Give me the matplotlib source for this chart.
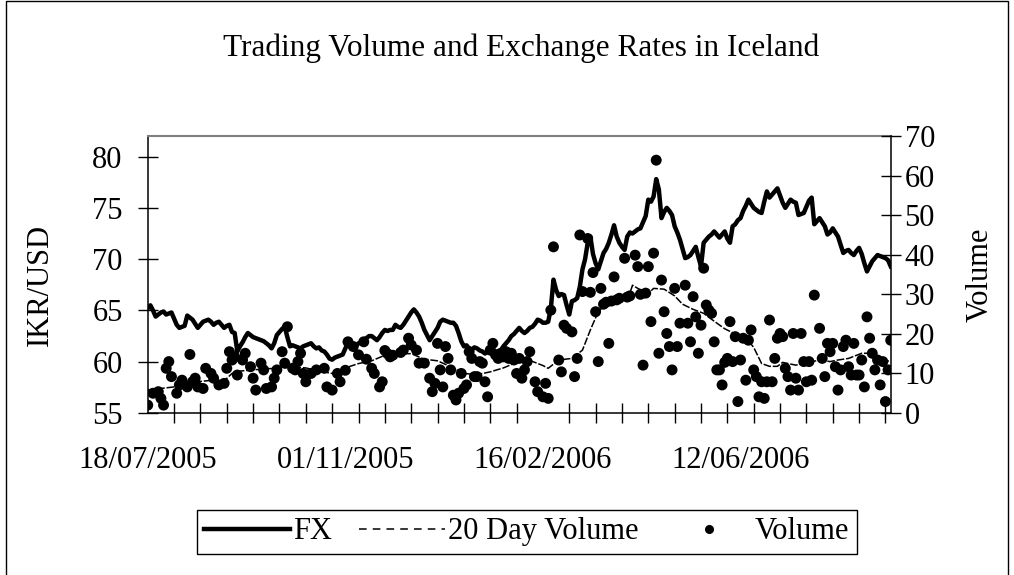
import numpy as np
import matplotlib
matplotlib.use("Agg")
import matplotlib.pyplot as plt
from matplotlib.patches import Rectangle
from matplotlib.lines import Line2D

plt.rcParams['font.family'] = ['Liberation Serif', 'DejaVu Serif']

# Trading days from 18/07/2005 (index 0)
fx = [
    65.2, 65.5, 65.0, 64.4, 64.6, 64.8, 64.9, 64.6, 64.7, 64.8,
    64.2, 63.6, 63.3, 63.4, 63.5, 64.5, 64.3, 64.1, 63.7, 63.3,
    63.6, 63.9, 64.0, 64.1, 63.9, 63.6, 63.8, 63.9, 63.6, 63.3,
    63.5, 63.6, 62.9, 62.8, 61.0, 61.5, 61.9, 62.4, 62.8, 62.6,
    62.4, 62.3, 62.2, 62.1, 62.0, 61.8, 61.6, 61.3, 61.8, 62.6,
    62.9, 63.2, 63.4, 62.4, 61.5, 61.6, 61.5, 61.4, 61.3, 61.5,
    61.6, 61.7, 61.8, 61.5, 61.3, 61.4, 61.1, 61.0, 60.7, 60.3,
    60.2, 60.4, 60.5, 60.6, 60.7, 61.3, 61.8, 61.6, 61.5, 61.5,
    61.8, 61.9, 62.0, 62.3, 62.5, 62.5, 62.3, 62.1, 62.4, 62.8,
    63.1, 63.0, 63.1, 63.1, 63.6, 63.4, 63.3, 63.6, 64.0, 64.4,
    64.8, 65.1, 64.8, 64.4, 63.8, 63.1, 62.6, 62.1, 62.5, 62.9,
    63.3, 63.9, 64.1, 64.0, 63.9, 63.8, 63.8, 63.5, 62.8, 62.0,
    61.5, 61.6, 61.3, 61.2, 61.4, 61.3, 61.1, 61.0, 60.8, 61.0,
    61.3, 61.2, 61.0, 60.8, 61.1, 61.5, 61.8, 62.1, 62.5, 62.7,
    63.0, 63.3, 63.0, 62.8, 63.0, 63.3, 63.4, 63.7, 64.1, 64.0,
    63.8, 63.8, 63.9, 65.2, 68.0, 67.0, 66.4, 66.6, 66.5, 65.5,
    64.6, 65.9, 66.0, 66.2, 67.3, 69.0, 70.0, 71.6, 72.2, 70.5,
    69.6, 69.0, 69.8, 70.6, 71.0, 71.6, 72.4, 73.3, 72.2, 71.6,
    71.2, 70.9, 72.2, 72.6, 72.5, 72.7, 72.9, 73.0, 73.6, 74.2,
    75.8, 75.6, 76.1, 77.8, 76.8, 74.0, 74.6, 75.0, 74.7, 74.3,
    73.2, 72.6, 71.9, 71.0, 70.1, 70.2, 70.4, 70.8, 71.2, 70.2,
    69.3, 71.6, 71.9, 72.2, 72.4, 72.7, 72.4, 72.1, 72.4, 72.7,
    72.0, 71.6, 73.2, 73.4, 73.8, 74.0, 74.7, 75.2, 75.8, 75.4,
    75.0, 74.8, 74.6, 74.5, 75.6, 76.6, 76.0, 76.3, 76.6, 76.9,
    76.2, 75.5, 75.0, 75.4, 75.8, 75.6, 75.5, 74.3, 74.4, 74.5,
    75.1, 75.7, 76.0, 73.4, 73.7, 74.0, 73.6, 73.2, 72.4, 72.6,
    73.0, 72.6, 72.2, 71.4, 70.6, 70.8, 70.9, 70.6, 70.4, 70.8,
    71.1, 70.5, 69.6, 68.8, 69.3, 69.8, 70.1, 70.4, 70.3, 70.2,
    70.1, 69.9, 69.3,
]

# 20 day volume, read at these trading days
ma_day = [0, 5, 10, 15, 20, 25, 28, 32, 35, 40, 45, 50, 55, 60, 65, 70, 75,
          80, 85, 90, 95, 100, 105, 110, 115, 120, 125, 130, 135, 140, 145,
          150, 152, 156, 161, 165, 168, 171, 173, 177, 181, 183, 184, 186,
          190, 192, 196, 200, 203, 207, 211, 215, 219, 222, 225, 228, 230,
          233, 236, 239, 241, 246, 251, 255, 259, 262, 266, 271, 273, 276, 282]
ma_val = [5.8, 6.2, 6.6, 7.1, 8.0, 8.3, 7.5, 10.0, 10.6, 10.9, 11.2, 11.3,
          11.6, 11.4, 10.6, 10.0, 11.4, 12.5, 13.2, 14.6, 15.0, 15.0, 13.6,
          13.2, 11.7, 10.0, 9.7, 10.4, 11.4, 12.8, 13.3, 12.0, 11.3, 13.4,
          13.8, 15.9, 21.0, 25.6, 26.9, 28.1, 28.6, 30.3, 32.3, 31.5, 30.2,
          31.5, 31.3, 29.6, 27.5, 26.2, 25.2, 23.2, 21.3, 20.3, 19.3, 18.2,
          16.6, 12.5, 11.8, 11.8, 12.8, 12.1, 12.8, 13.4, 13.0, 13.4, 13.8,
          15.1, 15.1, 13.9, 13.0]

# daily volume dots (trading day, volume)
vol_day = [0, 2, 4, 5, 6, 7, 8, 9, 11, 12, 13, 15, 16, 17, 18, 19, 21, 22, 24,
           25, 27, 29, 30, 31, 32, 33, 34, 36, 37, 39, 40, 41, 43, 44, 45, 47,
           48, 49, 51, 52, 53, 55, 56, 57, 58, 59, 60, 62, 64, 67, 68, 70, 72,
           73, 75, 76, 78, 80, 82, 83, 85, 86, 88, 89, 90, 91, 92, 93, 96, 97,
           99, 100, 102, 103, 105, 107, 108, 109, 110, 111, 112, 113, 114, 115,
           116, 117, 118, 119, 120, 121, 122, 123, 124, 125, 126, 127, 128,
           129, 130, 131, 132, 133, 134, 135, 136, 137, 138, 139, 140, 141,
           142, 143, 144, 145, 147, 148, 150, 151, 152, 153, 154, 156, 157,
           158, 159, 161, 162, 163, 164, 165, 167, 168, 169, 170, 171, 172,
           173, 174, 175, 176, 177, 178, 179, 181, 182, 183, 185, 186, 187,
           188, 189, 190, 191, 192, 193, 194, 195, 196, 197, 198, 199, 200,
           201, 202, 204, 205, 206, 207, 208, 209, 210, 211, 212, 213, 214,
           215, 216, 217, 218, 219, 220, 221, 222, 223, 224, 225, 226, 227,
           228, 229, 230, 231, 232, 233, 234, 235, 236, 237, 238, 239, 240,
           241, 242, 243, 244, 245, 246, 247, 248, 249, 250, 251, 252, 253,
           255, 256, 257, 258, 259, 260, 261, 262, 263, 264, 265, 266, 267,
           268, 269, 270, 271, 272, 273, 274, 275, 276, 277, 278, 279, 280,
           281, 282]
vol_val = [2.0, 5.0, 5.4, 3.7, 2.0, 11.3, 13.0, 9.2, 5.0, 7.1, 8.3, 6.6, 14.8,
           7.9, 8.8, 6.6, 6.2, 11.3, 10.0, 8.8, 7.1, 7.5, 11.3, 15.5, 13.4,
           14.2, 9.6, 13.4, 15.1, 11.7, 8.8, 5.8, 12.6, 10.9, 6.2, 6.6, 8.8,
           10.9, 15.5, 12.6, 21.8, 11.3, 10.9, 13.0, 15.1, 10.0, 7.9, 10.0,
           10.9, 11.3, 6.6, 5.8, 10.0, 7.9, 10.8, 18.0, 16.8, 14.7, 18.0, 13.6,
           11.3, 10.0, 6.6, 7.9, 15.8, 15.0, 14.2, 14.6, 15.3, 15.9, 18.9,
           17.2, 15.9, 12.6, 12.6, 8.8, 5.4, 7.5, 17.6, 10.9, 6.6, 16.8, 13.8,
           10.9, 4.5, 3.3, 5.0, 10.0, 6.2, 7.1, 15.5, 13.8, 9.2, 9.2, 13.0,
           12.6, 7.9, 4.1, 15.9, 17.6, 14.7, 13.8, 15.1, 14.2, 15.5, 13.8,
           15.1, 13.4, 10.0, 13.8, 8.8, 10.9, 13.0, 15.5, 7.9, 5.4, 4.1, 7.5,
           3.7, 26.0, 42.0, 13.4, 10.4, 22.2, 21.4, 20.5, 9.2, 13.8, 45.0,
           30.7, 44.1, 30.5, 35.5, 25.6, 13.0, 31.5, 27.5, 28.0, 17.6, 28.3,
           34.4, 28.6, 29.0, 39.1, 29.3, 29.6, 39.9, 37.0, 30.0, 12.1, 30.3,
           37.0, 23.1, 40.4, 63.9, 15.1, 33.6, 25.6, 20.1, 16.8, 10.9, 31.5,
           16.8, 22.7, 32.3, 22.7, 18.0, 29.4, 24.3, 15.1, 22.2, 36.6, 27.3,
           26.0, 25.2, 18.0, 10.9, 10.9, 7.1, 12.8, 13.8, 23.1, 13.0, 19.3,
           2.9, 13.4, 18.9, 8.3, 18.4, 21.0, 10.9, 9.2, 4.1, 7.9, 3.7, 7.9,
           23.5, 7.9, 13.8, 18.9, 20.1, 19.3, 11.3, 9.2, 5.8, 20.1, 8.8, 5.8,
           20.1, 13.0, 7.9, 13.0, 8.3, 29.8, 21.4, 13.8, 9.2, 17.6, 15.5, 17.6,
           11.7, 5.8, 10.9, 16.8, 18.4, 11.7, 9.6, 17.6, 9.6, 9.6, 13.4, 6.6,
           24.3, 18.9, 15.1, 10.9, 13.4, 7.1, 13.0, 2.9, 10.9, 18.4]

tick_days = [0, 75, 150, 225]
tick_labels = ["18/07/2005", "01/11/2005", "16/02/2006", "12/06/2006"]

days = np.arange(len(fx))

fig = plt.figure(figsize=(10.14, 5.75), dpi=100)
ax = fig.add_axes([0.1457, 0.2817, 0.7327, 0.4817])
ax2 = ax.twinx()

l_fx, = ax.plot(days, fx, color='black', lw=3.2, solid_joinstyle='round', zorder=3)
ax2.plot(ma_day, ma_val, color='black', lw=1.1, linestyle=(0, (5, 1.2)))
sc = ax2.scatter(vol_day, vol_val, s=62, color='black', edgecolors='none')

ax.set_xlim(0, len(fx) - 1)
ax.set_ylim(55, 82)
ax.set_yticks([55, 60, 65, 70, 75, 80])
ax2.set_ylim(0, 70)
ax2.set_yticks(range(0, 71, 10))

ax.set_xticks(tick_days)
ax.set_xticklabels(tick_labels)
ax.set_xticks(range(0, len(fx), 10), minor=True)

ax.tick_params(axis='x', which='major', length=0, pad=24, labelsize=22)
ax.tick_params(axis='x', which='minor', direction='inout', length=14, width=1)
ax.tick_params(axis='y', direction='inout', length=14, width=1, pad=11, labelsize=22)
ax2.tick_params(axis='y', direction='inout', length=14, width=1, pad=3, labelsize=22)

for sp in ['left', 'bottom']:
    ax.spines[sp].set_linewidth(1.1)
ax.spines['right'].set_visible(False)
ax.spines['top'].set_color('#808080')
ax.spines['top'].set_linewidth(1.5)
ax2.spines['right'].set_linewidth(1.1)
for sp in ['left', 'bottom', 'top']:
    ax2.spines[sp].set_visible(False)

fig.text(0.514, 0.9165, "Trading Volume and Exchange Rates in Iceland",
         ha='center', va='center', fontsize=22.5)
fig.text(40 / 1014, 1 - 285 / 575, "IKR/USD", rotation=90, ha='center',
         va='center', fontsize=22)
fig.text(980 / 1014, 1 - 275 / 575, "Volume", rotation=90, ha='center',
         va='center', fontsize=22)

# legend proxies (the dashes are drawn wider in the key than on the chart)
h_fx = Line2D([], [], color='black', lw=3.2)
h_ma = Line2D([], [], color='black', lw=1.1, linestyle=(0, (5, 4)))
h_vol = Line2D([], [], color='black', linestyle='none', marker='o', markersize=5.5)
leg = fig.legend([h_fx, h_ma, h_vol], ["FX", "20 Day Volume", "Volume"],
                 loc='center', bbox_to_anchor=(0.5195, 0.0748), ncol=3,
                 fancybox=False, edgecolor='black', framealpha=1,
                 handlelength=2.8, handletextpad=0.1, columnspacing=0.9,
                 borderpad=0.25, fontsize=22, numpoints=1)
leg.get_frame().set_linewidth(1.0)

fig.patches.append(Rectangle((6 / 1014, -0.1), 1002 / 1014, 1.1 - 1.5 / 575,
                             transform=fig.transFigure, fill=False,
                             edgecolor='black', lw=1))

fig.savefig("out.png", dpi=100)
